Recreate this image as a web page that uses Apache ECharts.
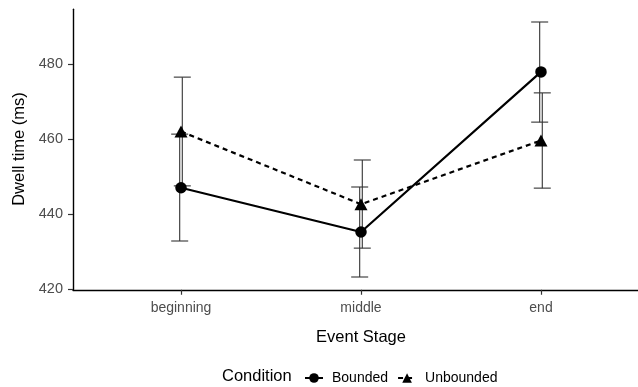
<!DOCTYPE html>
<html>
<head>
<meta charset="utf-8">
<script src="https://cdn.jsdelivr.net/npm/echarts@6/dist/echarts.min.js"></script>
<style>html,body{margin:0;padding:0;background:#fff}#c{width:638px;height:387px}</style>
</head>
<body>
<div id="c"></div>
<script>
const categories = ['beginning', 'middle', 'end'];
const boundedMean = [447.0, 435.2, 477.9];
const boundedLow = [432.8, 423.2, 464.5];
const boundedHigh = [461.3, 447.2, 491.2];
const unboundedMean = [462.0, 442.6, 459.6];
const unboundedLow = [447.5, 430.9, 446.9];
const unboundedHigh = [476.5, 454.4, 472.3];
const yTicks = [420, 440, 460, 480];

const FONT = 'Liberation Sans';
const chart = echarts.init(document.getElementById('c'), null, {renderer: 'canvas'});

function errData(lo, hi) { return categories.map((c, i) => [i + 1, lo[i], hi[i]]); }
function lineData(m) { return categories.map((c, i) => [i + 1, m[i]]); }
function errRender(offset) {
  return function (params, api) {
    const x = api.value(0);
    const pLo = api.coord([x, api.value(1)]);
    const pHi = api.coord([x, api.value(2)]);
    const cx = pLo[0] + offset;
    const hw = 8.5;
    const st = {stroke: '#333', lineWidth: 1.1, fill: null};
    return {type: 'group', children: [
      {type: 'line', shape: {x1: cx, y1: pLo[1], x2: cx, y2: pHi[1]}, style: st},
      {type: 'line', shape: {x1: cx - hw, y1: pLo[1], x2: cx + hw, y2: pLo[1]}, style: st},
      {type: 'line', shape: {x1: cx - hw, y1: pHi[1], x2: cx + hw, y2: pHi[1]}, style: st}
    ]};
  };
}

chart.setOption({
  animation: false,
  grid: {left: 73, top: 9.25, right: 0, height: 280.5, containLabel: false},
  xAxis: {
    type: 'value', min: 0.4, max: 3.539,
    axisLine: {show: true, onZero: false, lineStyle: {color: '#000', width: 1.4}},
    axisTick: {show: true, length: 5, customValues: [1, 2, 3], lineStyle: {color: '#333', width: 1.2}},
    axisLabel: {customValues: [1, 2, 3], formatter: v => categories[Math.round(v) - 1] || '',
      color: '#4d4d4d', fontFamily: FONT, fontSize: 14, margin: 11},
    splitLine: {show: false}
  },
  yAxis: {
    type: 'value', min: 419.8, max: 494.6,
    axisLine: {show: true, onZero: false, lineStyle: {color: '#000', width: 1.4}},
    axisTick: {show: true, length: 5, customValues: yTicks, lineStyle: {color: '#333', width: 1.2}},
    axisLabel: {customValues: yTicks, color: '#4d4d4d', fontFamily: FONT, fontSize: 14.5, margin: 10},
    splitLine: {show: false}
  },
  legend: {
    left: 299, top: 366,
    itemWidth: 18, itemHeight: 12, itemGap: 9,
    textStyle: {fontFamily: FONT, fontSize: 14, color: '#000', padding: [0, 0, 0, 4]},
    data: ['Bounded', 'Unbounded']
  },
  graphic: [
    {type: 'text', left: 222, top: 368, style: {text: 'Condition', font: '16.5px "Liberation Sans"', fill: '#000'}},
    {type: 'text', x: 361, y: 337, style: {text: 'Event Stage', font: '16.5px "Liberation Sans"', fill: '#000', align: 'center', verticalAlign: 'middle'}},
    {type: 'text', x: 19, y: 149, rotation: Math.PI / 2, style: {text: 'Dwell time (ms)', font: '16.5px "Liberation Sans"', fill: '#000', align: 'center', verticalAlign: 'middle'}}
  ],
  series: [
    {type: 'custom', name: 'errB', renderItem: errRender(-1.3), data: errData(boundedLow, boundedHigh), z: 1, silent: true},
    {type: 'custom', name: 'errU', renderItem: errRender(1.3), data: errData(unboundedLow, unboundedHigh), z: 1, silent: true},
    {type: 'line', name: 'Bounded', data: lineData(boundedMean), symbol: 'circle', symbolSize: 11.5,
      lineStyle: {color: '#000', width: 2.2}, itemStyle: {color: '#000'}, z: 3},
    {type: 'line', name: 'Unbounded', data: lineData(unboundedMean), symbol: 'triangle', symbolSize: [13, 12],
      lineStyle: {color: '#000', width: 2.2, type: [5, 4]}, itemStyle: {color: '#000'}, z: 3}
  ]
});
</script>
</body>
</html>
